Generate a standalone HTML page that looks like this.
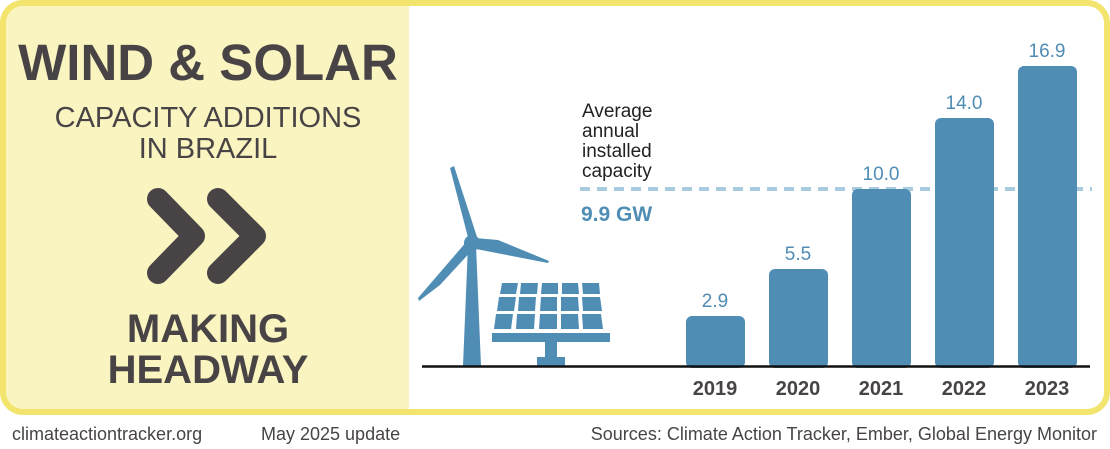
<!DOCTYPE html>
<html><head><meta charset="utf-8"><style>
body{margin:0;width:1110px;height:444px;background:#fff;overflow:hidden;font-family:"Liberation Sans","DejaVu Sans",sans-serif}
</style></head><body>
<svg width="1110" height="444" viewBox="0 0 1110 444" xmlns="http://www.w3.org/2000/svg" font-family="Liberation Sans, DejaVu Sans, sans-serif">
<defs><clipPath id="c"><rect x="3" y="3" width="1104" height="409" rx="20"/></clipPath></defs>
<rect x="3" y="3" width="1104" height="409" rx="20" fill="#fff"/>
<rect x="0" y="0" width="409" height="415" fill="#faf4c0" clip-path="url(#c)"/>
<rect x="3" y="3" width="1104" height="409" rx="20" fill="none" stroke="#f2e46c" stroke-width="6"/>
<g fill="#484446" text-anchor="middle">
<text x="208" y="80" font-size="51" font-weight="bold">WIND &amp; SOLAR</text>
<text x="208" y="127" font-size="29">CAPACITY ADDITIONS</text>
<text x="208" y="158" font-size="29">IN BRAZIL</text>
<text x="208" y="342" font-size="40" font-weight="bold">MAKING</text>
<text x="208" y="383" font-size="40" font-weight="bold">HEADWAY</text>
</g>
<g fill="none" stroke="#484446" stroke-width="22" stroke-linecap="round" stroke-linejoin="round">
<polyline points="158,199 194,236 158,273"/>
<polyline points="218,199 255,236 218,273"/>
</g>
<line x1="580" y1="189" x2="1092" y2="189" stroke="#a9cbe0" stroke-width="4" stroke-dasharray="10,7"/>
<g fill="#222" font-size="19"><text x="582" y="117">Average</text><text x="582" y="137">annual</text><text x="582" y="157">installed</text><text x="582" y="177">capacity</text></g>
<text x="581" y="221" fill="#4f8db5" font-size="21" font-weight="bold">9.9 GW</text>
<g fill="#4f8db5">
<rect x="686" y="316" width="59" height="52" rx="6"/>
<rect x="769" y="269" width="59" height="99" rx="6"/>
<rect x="852" y="189" width="59" height="179" rx="6"/>
<rect x="935" y="118" width="59" height="250" rx="6"/>
<rect x="1018" y="66" width="59" height="302" rx="6"/>
</g>
<g fill="#4f8db5" font-size="19" text-anchor="middle">
<text x="715" y="307">2.9</text><text x="798" y="260">5.5</text><text x="881" y="180">10.0</text><text x="964" y="109">14.0</text><text x="1047" y="57">16.9</text>
</g>
<g fill="#484446" font-size="20" font-weight="bold" text-anchor="middle">
<text x="715" y="395">2019</text><text x="798" y="395">2020</text><text x="881" y="395">2021</text><text x="964" y="395">2022</text><text x="1047" y="395">2023</text>
</g>
<g fill="#4f8db5">
<polygon points="468,245 476,245 481,366 463,366"/>
<circle cx="472" cy="243" r="8"/>
<polygon points="450,168 454,166 478,240 470,245"/>
<polygon points="468,240 475,247 440,285 419,301 418,298"/>
<polygon points="475,238 498,240 549,261 548,263 476,249"/>
<polygon points="502,283 518,283 516,294 500,294"/><polygon points="521,283 538,283 537,294 520,294"/><polygon points="542,283 558,283 558,294 541,294"/><polygon points="562,283 578,283 579,294 562,294"/><polygon points="582,283 599,283 600,294 583,294"/>
<polygon points="499,297 516,297 514,311 497,311"/><polygon points="519,297 536,297 535,311 518,311"/><polygon points="541,297 557,297 557,311 540,311"/><polygon points="561,297 578,297 579,311 561,311"/><polygon points="582,297 600,297 602,311 583,311"/>
<polygon points="496,314 513,314 511,329 494,329"/><polygon points="517,314 535,314 534,329 516,329"/><polygon points="540,314 557,314 557,329 539,329"/><polygon points="561,314 578,314 579,329 561,329"/><polygon points="582,314 601,314 603,329 583,329"/>
<rect x="492" y="333" width="118" height="9"/>
<rect x="545" y="342" width="12" height="15"/>
<rect x="537" y="357" width="28" height="9"/>
</g>
<line x1="422" y1="366.5" x2="1090" y2="366.5" stroke="#111" stroke-width="2.5"/>
<g fill="#484446" font-size="18">
<text x="12" y="440">climateactiontracker.org</text>
<text x="261" y="440">May 2025 update</text>
<text x="1097" y="440" text-anchor="end">Sources: Climate Action Tracker, Ember, Global Energy Monitor</text>
</g>
</svg>
</body></html>
